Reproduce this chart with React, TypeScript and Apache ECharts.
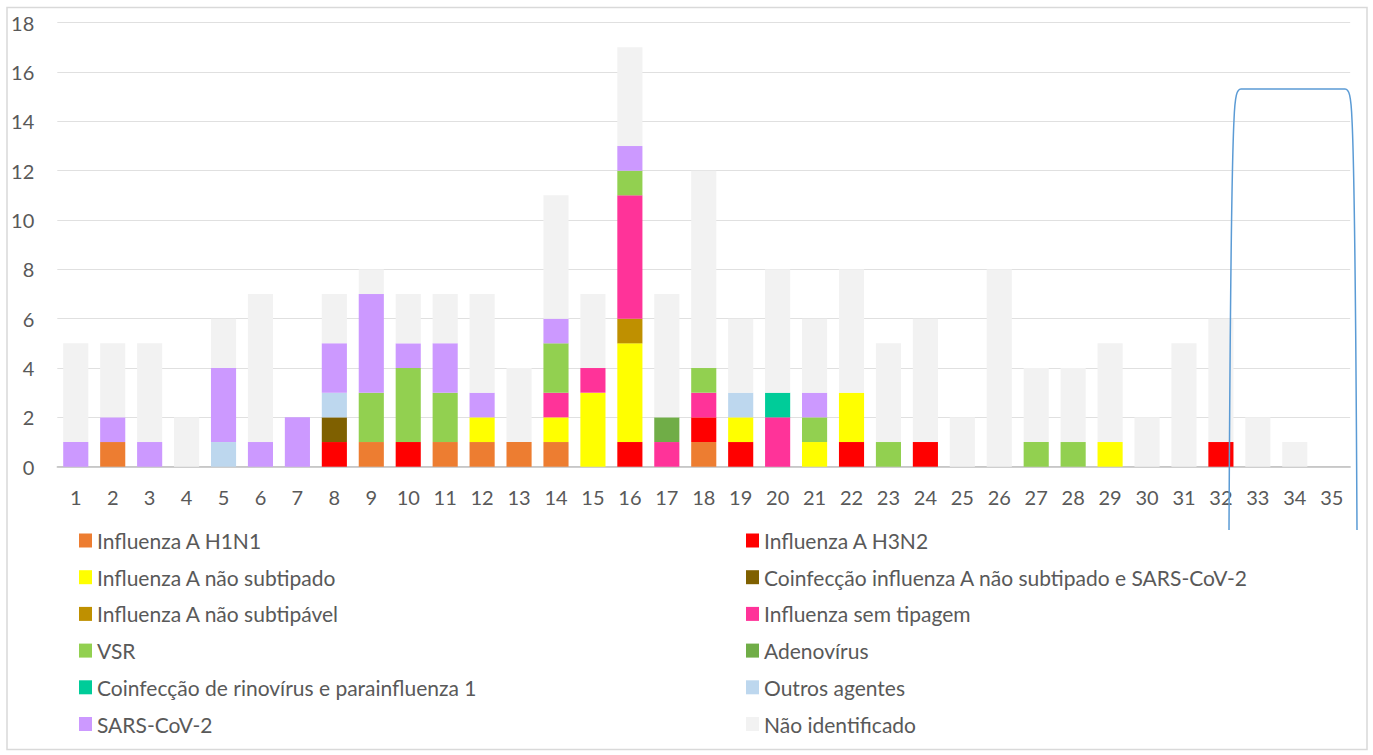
import React, { useEffect, useRef } from "react";
import * as echarts from "echarts";

const categories = ["1","2","3","4","5","6","7","8","9","10","11","12","13","14","15","16","17","18","19","20","21","22","23","24","25","26","27","28","29","30","31","32","33","34","35"];

const h1n1 =        [0,1,0,0,0,0,0,0,1,0,1,1,1,1,0,0,0,1,0,0,0,0,0,0,0,0,0,0,0,0,0,0,0,0,0];
const h3n2 =        [0,0,0,0,0,0,0,1,0,1,0,0,0,0,0,1,0,1,1,0,0,1,0,1,0,0,0,0,0,0,0,1,0,0,0];
const naoSubtipado =[0,0,0,0,0,0,0,0,0,0,0,1,0,1,3,4,0,0,1,0,1,2,0,0,0,0,0,0,1,0,0,0,0,0,0];
const coinfASars =  [0,0,0,0,0,0,0,1,0,0,0,0,0,0,0,0,0,0,0,0,0,0,0,0,0,0,0,0,0,0,0,0,0,0,0];
const naoSubtipavel=[0,0,0,0,0,0,0,0,0,0,0,0,0,0,0,1,0,0,0,0,0,0,0,0,0,0,0,0,0,0,0,0,0,0,0];
const semTipagem =  [0,0,0,0,0,0,0,0,0,0,0,0,0,1,1,5,1,1,0,2,0,0,0,0,0,0,0,0,0,0,0,0,0,0,0];
const vsr =         [0,0,0,0,0,0,0,0,2,3,2,0,0,2,0,1,0,1,0,0,1,0,1,0,0,0,1,1,0,0,0,0,0,0,0];
const adenovirus =  [0,0,0,0,0,0,0,0,0,0,0,0,0,0,0,0,1,0,0,0,0,0,0,0,0,0,0,0,0,0,0,0,0,0,0];
const coinfRino =   [0,0,0,0,0,0,0,0,0,0,0,0,0,0,0,0,0,0,0,1,0,0,0,0,0,0,0,0,0,0,0,0,0,0,0];
const outros =      [0,0,0,0,1,0,0,1,0,0,0,0,0,0,0,0,0,0,1,0,0,0,0,0,0,0,0,0,0,0,0,0,0,0,0];
const sarsCov2 =    [1,1,1,0,3,1,2,2,4,1,2,1,0,1,0,1,0,0,0,0,1,0,0,0,0,0,0,0,0,0,0,0,0,0,0];
const naoIdent =    [4,3,4,2,2,6,0,2,1,2,2,4,3,5,3,4,5,8,3,5,3,5,4,5,2,8,3,3,4,2,5,5,2,1,0];

const yTicks = { min: 0, max: 18, interval: 2 };

const seriesDefs = [
  { name: "Influenza A H1N1", data: h1n1, color: "#ED7D31" },
  { name: "Influenza A H3N2", data: h3n2, color: "#FF0000" },
  { name: "Influenza A não subtipado", data: naoSubtipado, color: "#FFFF00" },
  { name: "Coinfecção influenza A não subtipado e SARS-CoV-2", data: coinfASars, color: "#7F6000" },
  { name: "Influenza A não subtipável", data: naoSubtipavel, color: "#BF9000" },
  { name: "Influenza sem tipagem", data: semTipagem, color: "#FF3399" },
  { name: "VSR", data: vsr, color: "#92D050" },
  { name: "Adenovírus", data: adenovirus, color: "#70AD47" },
  { name: "Coinfecção de rinovírus e parainfluenza 1", data: coinfRino, color: "#00CC99" },
  { name: "Outros agentes", data: outros, color: "#BDD7EE" },
  { name: "SARS-CoV-2", data: sarsCov2, color: "#CC99FF" },
  { name: "Não identificado", data: naoIdent, color: "#F2F2F2" },
];

const FONT = "Lato";

echarts.graphic.registerShape(
  "bracketShape",
  echarts.graphic.extendPath(
    "M1229,530 C1230,330 1232,160 1234,120 C1235,95 1237,89 1241,89 L1345,89 C1349,89 1351,95 1352,120 C1354,160 1356,330 1357,530",
    {}
  ) as any
);

export default function App() {
  const ref = useRef<HTMLDivElement>(null);
  useEffect(() => {
    if (!ref.current) return;
    const chart = echarts.init(ref.current, null, { renderer: "svg" });
    const legendText = { fontFamily: FONT, fontSize: 21, color: "#595959", lineHeight: 24 };
    const col1 = seriesDefs.filter((_, i) => i % 2 === 0).map((s) => s.name);
    const col2 = seriesDefs.filter((_, i) => i % 2 === 1).map((s) => s.name);
    const legendBase = {
      orient: "vertical",
      top: 528.5,
      padding: 0,
      itemWidth: 13,
      itemHeight: 14,
      itemGap: 12.7,
      icon: "rect",
      textStyle: legendText,
      selectedMode: false,
    };
    chart.setOption({
      animation: false,
      backgroundColor: "#FFFFFF",
      textStyle: { fontFamily: FONT },
      grid: { left: 57.3, right: 22.8, top: 22.7, bottom: 755 - 466.7, containLabel: false },
      xAxis: {
        type: "category",
        data: categories,
        axisLine: { show: true, lineStyle: { color: "#BFBFBF", width: 1.5 } },
        axisTick: { show: false },
        axisLabel: { fontFamily: FONT, fontSize: 20, color: "#595959", margin: 20, interval: 0 },
      },
      yAxis: {
        type: "value",
        min: yTicks.min,
        max: yTicks.max,
        interval: yTicks.interval,
        axisLine: { show: false },
        axisTick: { show: false },
        splitLine: { lineStyle: { color: "#E0E0E0", width: 1 } },
        axisLabel: { fontFamily: FONT, fontSize: 20, color: "#595959", margin: 23, align: "right" },
      },
      legend: [
        { ...legendBase, left: 79, data: col1 },
        { ...legendBase, left: 746, data: col2 },
      ],
      series: seriesDefs.map((s) => ({
        name: s.name,
        type: "bar",
        stack: "total",
        data: s.data,
        barCategoryGap: "32%",
        itemStyle: { color: s.color },
        emphasis: { disabled: true },
      })),
      graphic: [
        {
          type: "rect",
          shape: { x: 7, y: 7.5, width: 1360, height: 742 },
          style: { fill: "none", stroke: "#D9D9D9", lineWidth: 1.5 },
          silent: true,
          z: -1,
        },
        {
          type: "bracketShape",
          x: 0,
          y: 0,
          style: { fill: "none", stroke: "#5B9BD5", lineWidth: 1.5 },
          silent: true,
          z: 100,
        },
      ],
    });
    return () => chart.dispose();
  }, []);
  return (
    <div
      ref={ref}
      style={{ position: "fixed", left: 0, top: 0, width: 1373, height: 755 }}
    />
  );
}
